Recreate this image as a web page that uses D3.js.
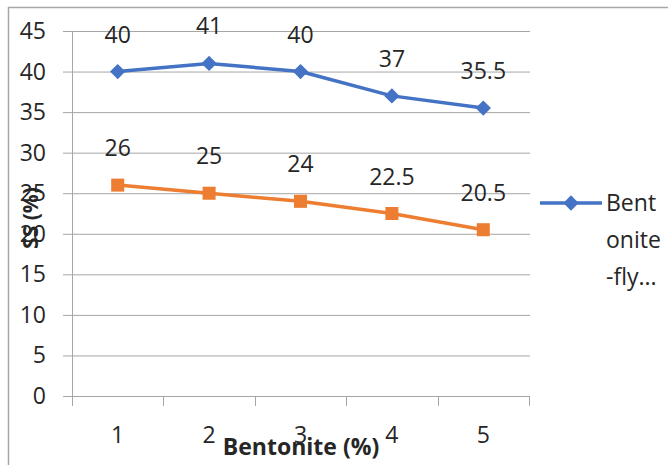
<!DOCTYPE html>
<html>
<head>
<meta charset="utf-8">
<script src="https://cdn.jsdelivr.net/npm/d3@7"></script>
<style>
  body { margin: 0; background: #fff; }
  text { font-family: "Open Sans", sans-serif; fill: #262626; }
</style>
</head>
<body>
<svg width="668" height="465"></svg>
<script>
const categories = ["1", "2", "3", "4", "5"];
const blueValues = [40, 41, 40, 37, 35.5];
const orangeValues = [26, 25, 24, 22.5, 20.5];
const yTicks = [0, 5, 10, 15, 20, 25, 30, 35, 40, 45];
const legendLines = ["Bent", "onite", "-fly..."];

const svg = d3.select("svg");

// frame (only top and left edges visible)
svg.append("line").attr("x1", 8).attr("x2", 668).attr("y1", 7.5).attr("y2", 7.5)
  .attr("stroke", "#a6a6a6").attr("stroke-width", 1.5);
svg.append("line").attr("x1", 8.5).attr("x2", 8.5).attr("y1", 7).attr("y2", 465)
  .attr("stroke", "#a6a6a6").attr("stroke-width", 1.5);

const x = d3.scaleBand().domain(categories).range([72, 529]);
const y = d3.scaleLinear().domain([0, 45]).range([396, 31]);

// gridlines
svg.append("g").selectAll("line").data(yTicks).enter().append("line")
  .attr("x1", 63).attr("x2", 530)
  .attr("y1", d => y(d) + 0.5).attr("y2", d => y(d) + 0.5)
  .attr("stroke", "#a6a6a6").attr("stroke-width", 1);

// y axis line
svg.append("line").attr("x1", 72.5).attr("x2", 72.5).attr("y1", y(45)).attr("y2", 406)
  .attr("stroke", "#a6a6a6");

// x tick marks between categories
const bounds = categories.slice(1).map(c => x(c));
svg.append("g").selectAll("line").data(bounds).enter().append("line")
  .attr("x1", d => Math.round(d) + 0.5).attr("x2", d => Math.round(d) + 0.5)
  .attr("y1", 396).attr("y2", 406)
  .attr("stroke", "#a6a6a6");
svg.append("line").attr("x1", 529.5).attr("x2", 529.5).attr("y1", 396).attr("y2", 406)
  .attr("stroke", "#a6a6a6");

// y tick labels
svg.append("g").selectAll("text").data(yTicks).enter().append("text")
  .attr("x", 46).attr("y", d => y(d))
  .attr("dy", "0.35em").attr("text-anchor", "end")
  .attr("font-size", 23).text(d => d);

// x tick labels
svg.append("g").selectAll("text").data(categories).enter().append("text")
  .attr("x", d => x(d) + x.bandwidth() / 2).attr("y", 435)
  .attr("dy", "0.35em").attr("text-anchor", "middle")
  .attr("font-size", 23).text(d => d);

// axis titles
svg.append("text").attr("x", 301).attr("y", 447).attr("dy", "0.35em")
  .attr("text-anchor", "middle").attr("font-size", 23).attr("font-weight", "bold")
  .text("Bentonite (%)");
svg.append("text").attr("transform", "translate(31,218) rotate(-90)")
  .attr("dy", "0.35em").attr("text-anchor", "middle")
  .attr("font-size", 21).attr("font-weight", "bold")
  .text("SS (%)");

const cx = d => x(d) + x.bandwidth() / 2;
const line = d3.line().x(d => cx(d.c)).y(d => y(d.v));

function series(values, color, shape, size) {
  const pts = values.map((v, i) => ({ c: categories[i], v }));
  svg.append("path").datum(pts).attr("d", line)
    .attr("fill", "none").attr("stroke", color).attr("stroke-width", 3.5)
    .attr("stroke-linejoin", "round");
  svg.append("g").selectAll("path").data(pts).enter().append("path")
    .attr("d", d3.symbol().type(shape).size(size))
    .attr("transform", d => `translate(${cx(d.c)},${y(d.v)})`)
    .attr("fill", color);
  svg.append("g").selectAll("text").data(pts).enter().append("text")
    .attr("x", d => cx(d.c)).attr("y", d => y(d.v) - 37)
    .attr("dy", "0.35em").attr("text-anchor", "middle")
    .attr("font-size", 23).text(d => d.v);
}

series(orangeValues, "#ed7d31", d3.symbolSquare, 170);
series(blueValues, "#4472c4", d3.symbolDiamond2, 150);

// legend
svg.append("line").attr("x1", 540).attr("x2", 602).attr("y1", 203).attr("y2", 203)
  .attr("stroke", "#4472c4").attr("stroke-width", 3.5);
svg.append("path").attr("d", d3.symbol().type(d3.symbolDiamond2).size(150))
  .attr("transform", "translate(571,203)").attr("fill", "#4472c4");
svg.append("g").selectAll("text").data(legendLines).enter().append("text")
  .attr("x", 606).attr("y", (d, i) => 203 + i * 37)
  .attr("dy", "0.35em").attr("font-size", 23).text(d => d);
</script>
</body>
</html>
